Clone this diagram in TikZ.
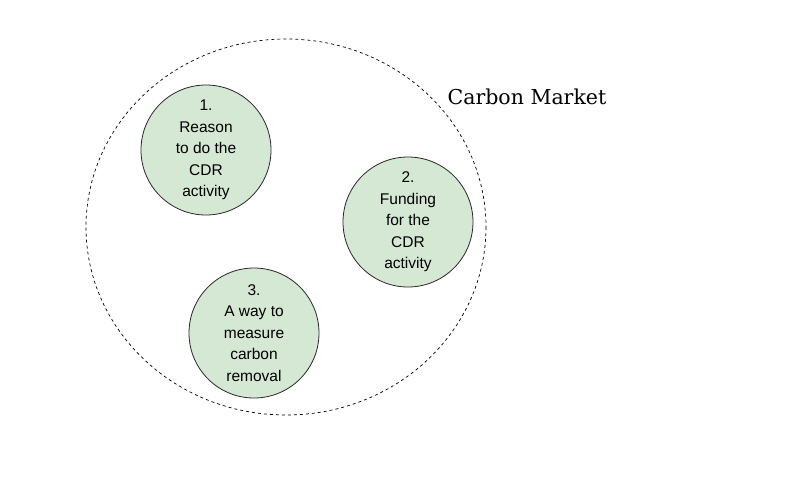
\documentclass[tikz,border=0pt]{standalone}
\usepackage{fontspec}
\setmainfont{Liberation Sans}
\newfontfamily\titlefont{DejaVu Serif}
\definecolor{paleGreen}{HTML}{D5E8D4}
\begin{document}
\begin{tikzpicture}[x=1pt, y=-1pt,
    topic/.style={circle, draw=black!85, line width=0.8pt, fill=paleGreen, minimum size=130pt,
      inner sep=0pt, align=center, font=\fontsize{15.5}{21.5}\selectfont}]
          \useasboundingbox (0,0) rectangle (800,488);
          \draw [dash pattern=on 3pt off 3pt, line width=0.7pt] (286,227) ellipse [x radius=200, y radius=188];
          \node (market) at (527,97) {\titlefont\fontsize{20.5}{24}\selectfont Carbon Market};
          \node [topic] (reason) at (206,150) {1.\\Reason\\to do the\\CDR\\activity};
          \node [topic] (funding) at (408,222) {2.\\Funding\\for the\\CDR\\activity};
          \node [topic] (measure) at (254,333) {3.\\A way to\\measure\\carbon\\removal};
        \end{tikzpicture}
\end{document}
